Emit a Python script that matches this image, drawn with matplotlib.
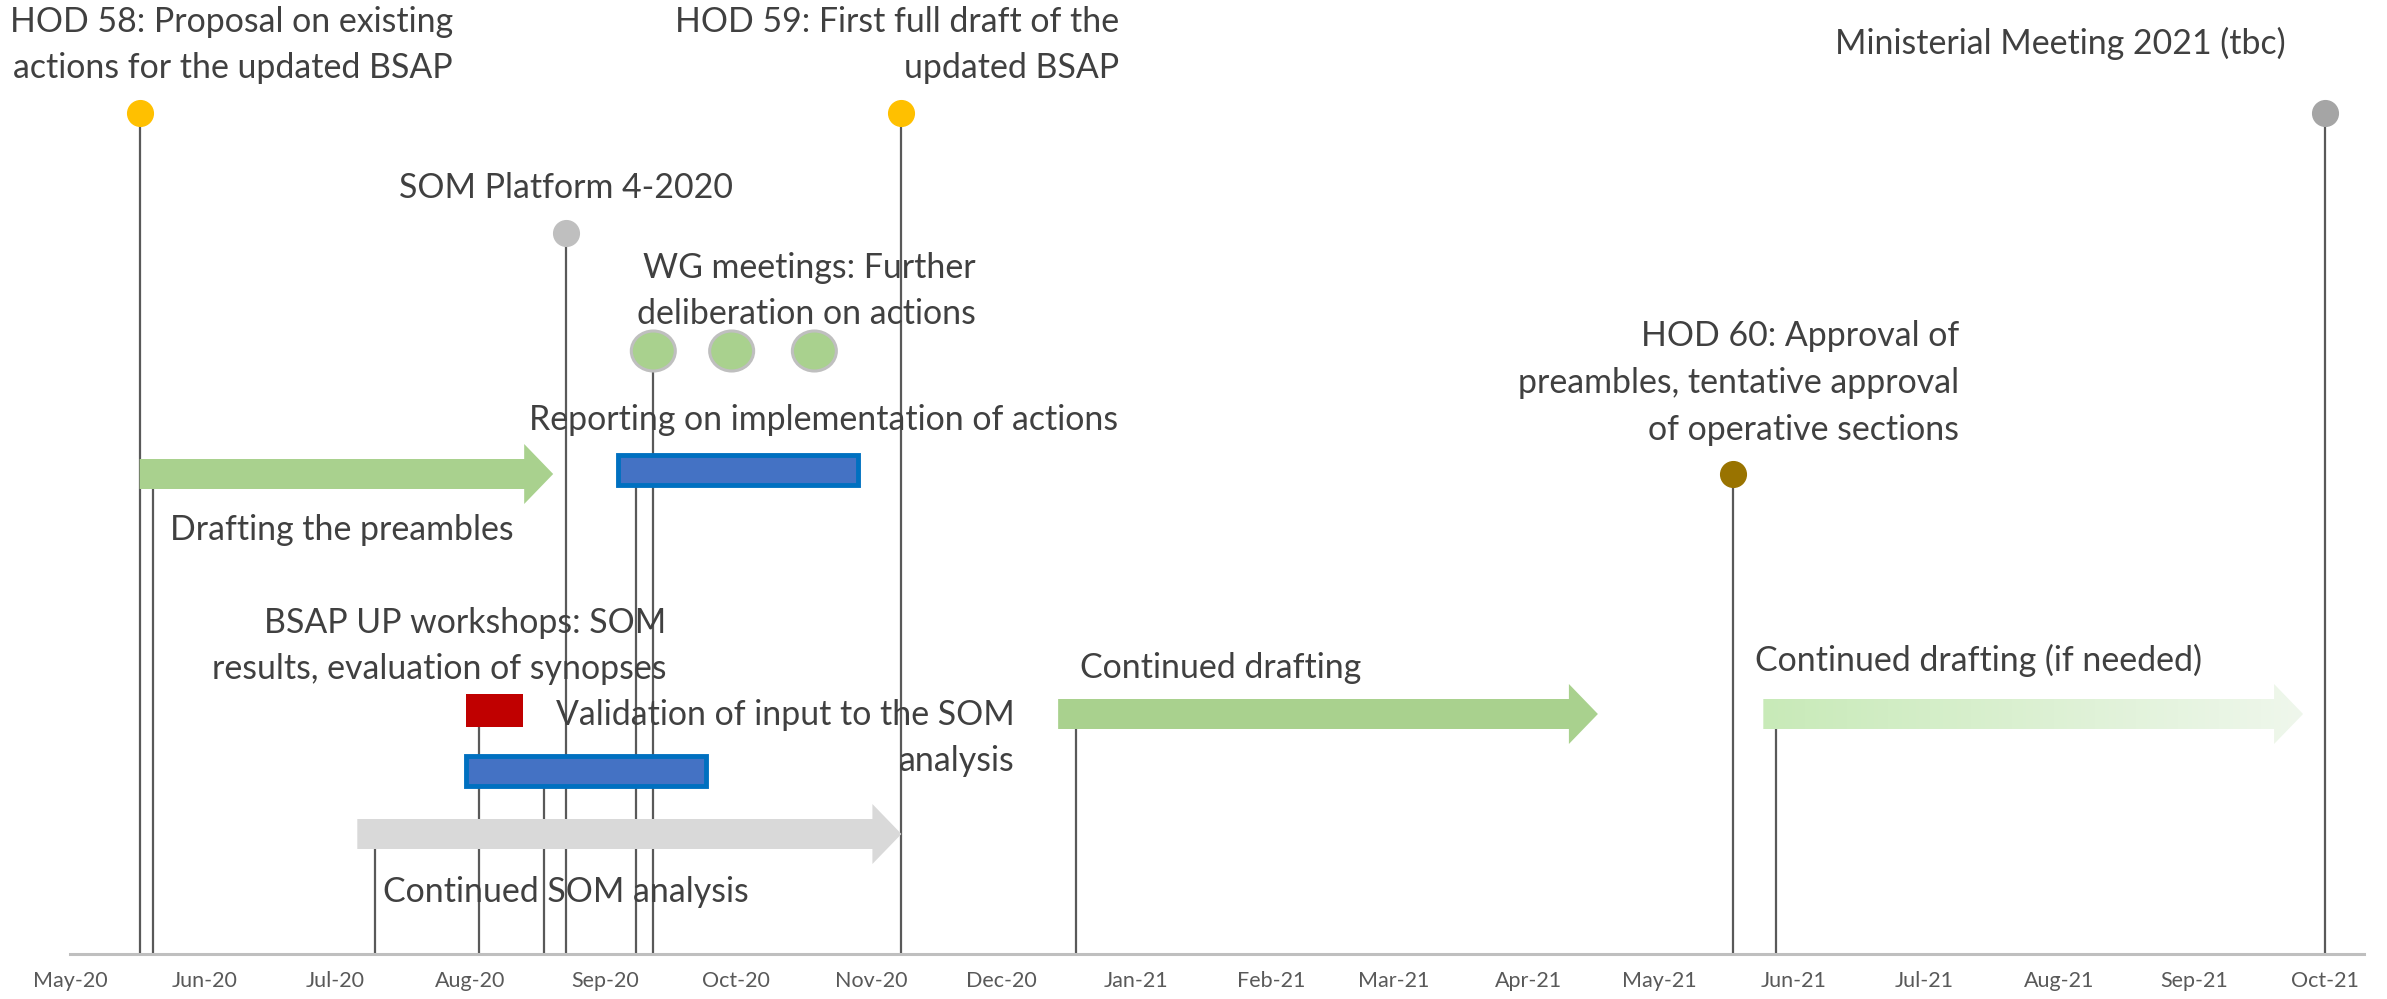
import numpy as np
import pandas as pd
import matplotlib
matplotlib.use("Agg")
import matplotlib.pyplot as plt
import matplotlib.dates as mdates
from matplotlib.patches import Polygon, Rectangle, Ellipse
from matplotlib.colors import LinearSegmentedColormap

# ---------------- data ----------------
milestone_names = [
    "HOD 58: Proposal on existing\nactions for the updated BSAP",
    "SOM Platform 4-2020",
    "HOD 59: First full draft of the\nupdated BSAP",
    "HOD 60: Approval of\npreambles, tentative approval\nof operative sections",
    "Ministerial Meeting 2021 (tbc)",
]
milestone_dates = ["2020-05-17", "2020-08-23", "2020-11-08", "2021-05-18", "2021-10-01"]
milestone_heights = [841, 721, 841, 480, 841]

wg_label = "WG meetings: Further\ndeliberation on actions"
wg_dates = ["2020-09-12", "2020-09-30", "2020-10-19"]
wg_height = 603

arrow_names = ["Drafting the preambles", "Continued SOM analysis",
               "Continued drafting", "Continued drafting (if needed)"]
arrow_stem_dates = ["2020-05-20", "2020-07-10", "2020-12-18", "2021-05-28"]
arrow_starts = ["2020-05-17", "2020-07-06", "2020-12-14", "2021-05-25"]
arrow_ends = ["2020-08-20", "2020-11-08", "2021-04-17", "2021-09-26"]
arrow_heights = [480, 120, 240, 240]

bar_names = ["Reporting on implementation of actions",
             "Validation of input to the SOM\nanalysis",
             "BSAP UP workshops: SOM\nresults, evaluation of synopses"]
bar_stem_dates = ["2020-09-08", "2020-08-18", "2020-08-03"]
bar_starts = ["2020-09-04", "2020-07-31", "2020-07-31"]
bar_ends = ["2020-10-29", "2020-09-24", "2020-08-13"]
bar_heights = [484, 183, 244]

axis_start, axis_end = "2020-05-01", "2021-10-10"

# ---------------- styles / layout ----------------
milestone_colors = ["#FFC000", "#BFBFBF", "#FFC000", "#997300", "#A5A5A5"]
arrow_colors = ["#A9D18E", "#D9D9D9", "#A9D18E", "gradient"]
bar_styles = [dict(fc="#4472C4", ec="#0070C0", lw=3.5),
              dict(fc="#4472C4", ec="#0070C0", lw=3.5),
              dict(fc="#C00000", ec="none", lw=0)]
TEXT = "#404040"
STEM = "#595959"
FONT = "Lato"
FS = 24.4

# label anchors: (date, height, ha)
milestone_label_pos = [("2020-07-28", 909, "right"), ("2020-08-23", 766, "center"),
                       ("2020-12-28", 909, "right"), ("2021-07-09", 571, "right"),
                       ("2021-09-22", 911, "right")]
wg_label_pos = ("2020-11-25", 663, "right")
arrow_label_pos = [("2020-05-24", 424, "left"), ("2020-07-12", 62, "left"),
                   ("2020-12-19", 286, "left"), ("2021-05-23", 294, "left")]
bar_label_pos = [("2020-10-21", 534, "center"), ("2020-12-04", 216, "right"),
                 ("2020-09-15", 308, "right")]

W, H, DPI = 2387, 999, 100
PX_PER_DAY = 4.353
d0 = mdates.date2num(pd.Timestamp("2020-05-01"))
x_left = d0 - 70 / PX_PER_DAY
x_right = x_left + W / PX_PER_DAY
DPP = 1 / PX_PER_DAY  # days per pixel

def dn(s):
    return mdates.date2num(pd.Timestamp(s))

plt.rcParams['font.family'] = [FONT, 'DejaVu Sans']
fig = plt.figure(figsize=(W / DPI, H / DPI), dpi=DPI)
ax = fig.add_axes([0, 45 / H, 1, 954 / H])

# stems
stem_x = [dn(d) for d in milestone_dates] + [dn(wg_dates[0])] + \
         [dn(d) for d in arrow_stem_dates] + [dn(d) for d in bar_stem_dates]
stem_top = list(milestone_heights) + [wg_height] + list(arrow_heights) + list(bar_heights)
ax.vlines(stem_x, 0, stem_top, colors=STEM, lw=1.6, zorder=1)

# arrows
BODY, HEAD, HEADLEN = 15, 30, 29
for s, e, h, c in zip(arrow_starts, arrow_ends, arrow_heights, arrow_colors):
    xs, xe = dn(s), dn(e)
    xh = xe - HEADLEN * DPP
    pts = [(xs, h - BODY), (xh, h - BODY), (xh, h - HEAD), (xe, h),
           (xh, h + HEAD), (xh, h + BODY), (xs, h + BODY)]
    if c == "gradient":
        poly = Polygon(pts, closed=True, fc="none", ec="none", zorder=2)
        ax.add_patch(poly)
        cmap = LinearSegmentedColormap.from_list("g", ["#C8EAB8", "#EFF7EC"])
        grad = np.linspace(0, 1, 256).reshape(1, -1)
        im = ax.imshow(grad, cmap=cmap, extent=[xs, xe, h - HEAD, h + HEAD],
                       aspect="auto", zorder=2, interpolation="bilinear")
        im.set_clip_path(poly)
    else:
        ax.add_patch(Polygon(pts, closed=True, fc=c, ec="none", zorder=2))

# bars
BAR_H = 30
for s, e, h, st in zip(bar_starts, bar_ends, bar_heights, bar_styles):
    xs, xe = dn(s), dn(e)
    hh = BAR_H if st["lw"] > 0 else 33
    ax.add_patch(Rectangle((xs, h - hh / 2), xe - xs, hh, fc=st["fc"],
                           ec=st["ec"], lw=st["lw"], zorder=3))

# WG ellipses
for d in wg_dates:
    ax.add_patch(Ellipse((dn(d), wg_height), 44 * DPP, 40, fc="#A9D18E",
                         ec="#BFBFBF", lw=2.2, zorder=4))

# milestones
for d, h, c in zip(milestone_dates, milestone_heights, milestone_colors):
    ax.plot(dn(d), h, "o", ms=18.5, mfc=c, mec=c, zorder=4)

# labels
def lab(txt, pos):
    d, h, ha = pos
    ax.text(dn(d), h, txt, ha=ha, va="center", multialignment=ha,
            fontsize=FS, color=TEXT, linespacing=1.57, zorder=5)

for t, p in zip(milestone_names, milestone_label_pos):
    lab(t, p)
lab(wg_label, wg_label_pos)
for t, p in zip(arrow_names, arrow_label_pos):
    lab(t, p)
for t, p in zip(bar_names, bar_label_pos):
    lab(t, p)

# axis
ax.set_xlim(x_left, x_right)
ax.set_ylim(0, 954)
for sp in ["top", "right", "left"]:
    ax.spines[sp].set_visible(False)
ax.spines["bottom"].set_color("#BFBFBF")
ax.spines["bottom"].set_linewidth(2.2)
ax.spines["bottom"].set_bounds(dn(axis_start), dn(axis_end))
ax.xaxis.set_major_locator(mdates.MonthLocator())
ax.xaxis.set_major_formatter(mdates.DateFormatter("%b-%y"))
ax.tick_params(axis="x", length=0, pad=12, labelsize=15.5, labelcolor="#595959")
ax.set_yticks([])
ax.set_facecolor("none")

fig.savefig("out.png", dpi=DPI, facecolor="white")
